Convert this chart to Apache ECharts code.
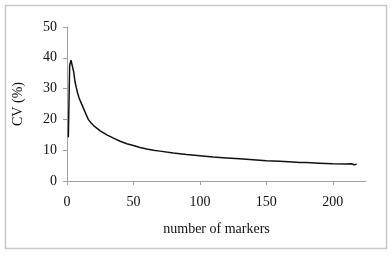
<!DOCTYPE html>
<html>
<head>
<meta charset="utf-8">
<script src="https://cdn.jsdelivr.net/npm/echarts@6/dist/echarts.min.js"></script>
<style>
  html, body { margin: 0; padding: 0; background: #fff; }
  #main { width: 392px; height: 256px; }
</style>
</head>
<body>
<div id="main"></div>
<script>
// number of markers (x) and CV in % (y)
var markers = [1, 2, 3, 4, 5, 6, 7, 8, 9, 10, 12, 14, 16, 18, 20, 25, 30, 35, 40, 45, 50, 55, 60, 65, 70, 80, 90, 100,
    110, 120, 130, 140, 150, 160, 170, 175, 180, 190, 200, 210, 214, 216, 218];
var cv = [14.2, 37.5, 39.2, 39.5, 35.5, 32.3, 30.3, 28.5, 27.1, 26.0, 24.0, 22.0, 20.0, 18.9, 18.0, 16.3, 15.0, 13.9, 12.9, 12.1, 11.5, 10.9, 10.4, 10.0, 9.7, 9.1, 8.6, 8.2,
    7.8, 7.5, 7.2, 6.9, 6.6, 6.4, 6.2, 6.0, 6.0, 5.8, 5.6, 5.5, 5.6, 5.3, 5.4];
var xTicks = [0, 50, 100, 150, 200];

var points = [];
for (var i = 0; i < markers.length; i++) {
    points.push([markers[i], cv[i]]);
}

var myChart = echarts.init(document.getElementById('main'));
var font = 'Liberation Serif';

myChart.setOption({
    animation: false,
    backgroundColor: '#fff',
    graphic: [{
        type: 'rect',
        shape: { x: 5.5, y: 5.5, width: 381, height: 243 },
        style: { fill: 'none', stroke: '#c8c8c8', lineWidth: 1.5 },
        silent: true
    }],
    grid: { left: 67, right: 26, top: 27, bottom: 75 },
    xAxis: {
        type: 'value',
        min: 0,
        max: 225,
        name: 'number of markers',
        nameLocation: 'middle',
        nameGap: 41,
        nameTextStyle: { fontFamily: font, fontSize: 14, color: '#111' },
        splitLine: { show: false },
        axisLine: { lineStyle: { color: '#a0a0a0', width: 1 } },
        axisTick: { customValues: xTicks, length: 4, lineStyle: { color: '#a0a0a0' } },
        axisLabel: { customValues: xTicks, margin: 14, fontFamily: font, fontSize: 14, color: '#111' }
    },
    yAxis: {
        type: 'value',
        min: 0,
        max: 50,
        interval: 10,
        name: 'CV (%)',
        nameLocation: 'middle',
        nameGap: 42,
        nameTextStyle: { fontFamily: font, fontSize: 14, color: '#111' },
        splitLine: { show: false },
        axisLine: { show: true, lineStyle: { color: '#a0a0a0', width: 1 } },
        axisTick: { show: true, length: 4, lineStyle: { color: '#a0a0a0' } },
        axisLabel: { margin: 10, fontFamily: font, fontSize: 14, color: '#111' }
    },
    series: [{
        type: 'line',
        data: points,
        showSymbol: false,
        lineStyle: { color: '#111', width: 1.5 }
    }]
});
</script>
</body>
</html>
